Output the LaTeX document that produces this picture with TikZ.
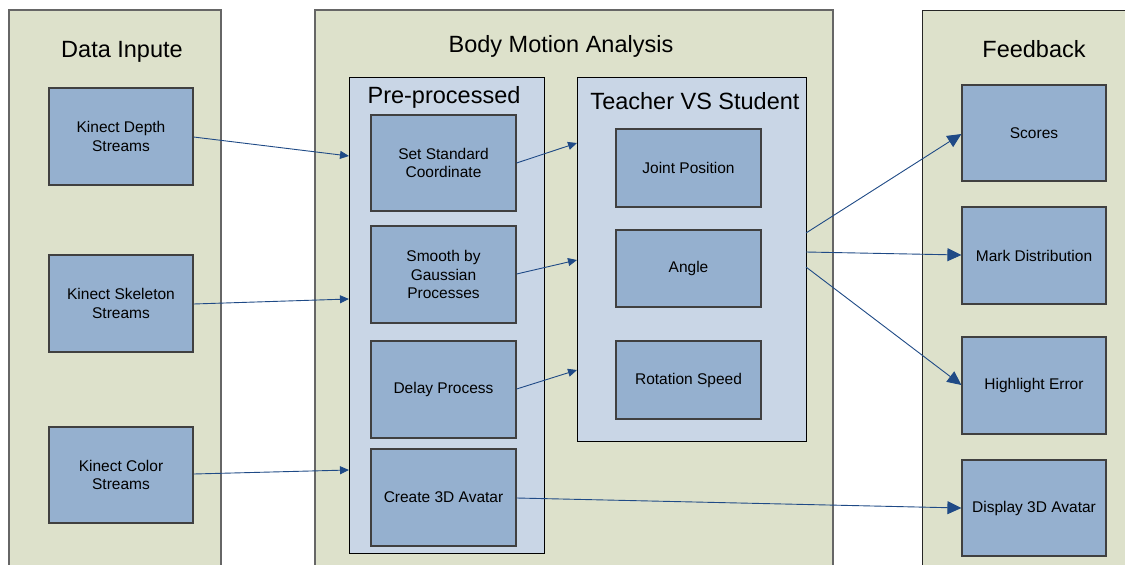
\documentclass[tikz,border=0pt]{standalone}
\usepackage{fontspec}
\setmainfont{Liberation Sans}
\usetikzlibrary{arrows.meta}
\definecolor{panelfill}{HTML}{DDE1CB}
\definecolor{contfill}{HTML}{C9D6E6}
\definecolor{boxfill}{HTML}{95B0CF}
\definecolor{arrowcol}{HTML}{1F4A86}
\begin{document}
\begin{tikzpicture}[x=1pt,y=-1pt,
  panel/.style={draw=black!60,line width=1.2pt,fill=panelfill},
  cont/.style={draw=black,line width=1pt,fill=contfill},
  blk/.style={draw=black!75,line width=1.2pt,fill=boxfill},
  lbl/.style={align=center,font=\fontsize{15.5}{18.5}\selectfont,inner sep=0pt},
  ttl/.style={font=\fontsize{23.5}{27}\selectfont,inner sep=0pt,anchor=base},
  conn/.style={draw=arrowcol,line width=0.9pt,-{Triangle[length=9pt,width=8pt]}},
  connbig/.style={draw=arrowcol,line width=0.9pt,-{Triangle[length=14pt,width=13pt]}}]
\useasboundingbox (0,0) rectangle (1125,565);
\clip (0,0) rectangle (1125,565);
\fill[white] (0,0) rectangle (1125,565);
% panels
\draw[panel] (9,575) -- (9,10) -- (221,10) -- (221,575);
\draw[panel] (315,575) -- (315,10) -- (833,10) -- (833,575);
\draw[panel,draw=black!85,line width=1pt] (922,575) -- (922,10) -- (1135,10) -- (1135,575);
\node[ttl] (t1) at (122,57) {Data Inpute};
\node[ttl] (t2) at (561,52) {Body Motion Analysis};
\node[ttl] (t3) at (1034,57) {Feedback};
% containers
\path[cont] (349,77) rectangle (544,553);
\node[ttl] (t4) at (444,103) {Pre-processed};
\path[cont] (577,77) rectangle (806,441);
\node[ttl] (t5) at (695,109) {Teacher VS Student};
% input boxes
\node[blk,minimum width=144pt,minimum height=97pt,inner sep=0pt] (kd) at (121,136.5) {};
\node[lbl] at (kd.center) {Kinect Depth\\Streams};
\node[blk,minimum width=144pt,minimum height=97pt,inner sep=0pt] (ks) at (121,303.5) {};
\node[lbl] at (ks.center) {Kinect Skeleton\\Streams};
\node[blk,minimum width=144pt,minimum height=96pt,inner sep=0pt] (kc) at (121,475) {};
\node[lbl] at (kc.center) {Kinect Color\\Streams};
% preprocess boxes
\node[blk,minimum width=145pt,minimum height=96pt,inner sep=0pt] (ssc) at (443.5,163) {};
\node[lbl] at (ssc.center) {Set Standard\\Coordinate};
\node[blk,minimum width=145pt,minimum height=97pt,inner sep=0pt] (sgp) at (443.5,274.5) {};
\node[lbl] at (sgp.center) {Smooth by\\Gaussian\\Processes};
\node[blk,minimum width=145pt,minimum height=97pt,inner sep=0pt] (dp) at (443.5,389.5) {};
\node[lbl] at (dp.center) {Delay Process};
\node[blk,minimum width=145pt,minimum height=97pt,inner sep=0pt] (c3d) at (443.5,497.5) {};
\node[lbl] at (c3d.center) {Create 3D Avatar};
% teacher vs student boxes
\node[blk,minimum width=145pt,minimum height=78pt,inner sep=0pt] (jp) at (688.5,168) {};
\node[lbl] at (jp.center) {Joint Position};
\node[blk,minimum width=145pt,minimum height=77pt,inner sep=0pt] (ang) at (688.5,268.5) {};
\node[lbl] at (ang.center) {Angle};
\node[blk,minimum width=145pt,minimum height=78pt,inner sep=0pt] (rs) at (688.5,380) {};
\node[lbl] at (rs.center) {Rotation Speed};
% feedback boxes
\node[blk,minimum width=144pt,minimum height=96pt,inner sep=0pt] (sc) at (1034,133) {};
\node[lbl] at (sc.center) {Scores};
\node[blk,minimum width=144pt,minimum height=97pt,inner sep=0pt] (md) at (1034,255.5) {};
\node[lbl] at (md.center) {Mark Distribution};
\node[blk,minimum width=144pt,minimum height=97pt,inner sep=0pt] (he) at (1034,385.5) {};
\node[lbl] at (he.center) {Highlight Error};
\node[blk,minimum width=144pt,minimum height=96pt,inner sep=0pt] (d3d) at (1034,508) {};
\node[lbl] at (d3d.center) {Display 3D Avatar};
% connector end coordinates on container borders
\coordinate (pin1) at (349,156);
\coordinate (pin2) at (349,299);
\coordinate (pin3) at (349,470);
\coordinate (tin1) at (577,143);
\coordinate (tin2) at (577,260);
\coordinate (tin3) at (577,370);
\coordinate (tout1) at (806,233);
\coordinate (tout2) at (806,252);
\coordinate (tout3) at (806,267);
% connectors
\draw[conn] (kd.east |- 0,137) -- (pin1);
\draw[conn] (ks.east |- 0,304) -- (pin2);
\draw[conn] (kc.east |- 0,474) -- (pin3);
\draw[conn] (ssc.east |- 0,163) -- (tin1);
\draw[conn] (sgp.east |- 0,274) -- (tin2);
\draw[conn] (dp.east |- 0,389) -- (tin3);
\draw[connbig] (tout1) -- (sc.west |- 0,134);
\draw[connbig] (tout2) -- (md.west |- 0,255);
\draw[connbig] (tout3) -- (he.west |- 0,385);
\draw[connbig] (c3d.east |- 0,498) -- (d3d.west |- 0,508);
\end{tikzpicture}
\end{document}
